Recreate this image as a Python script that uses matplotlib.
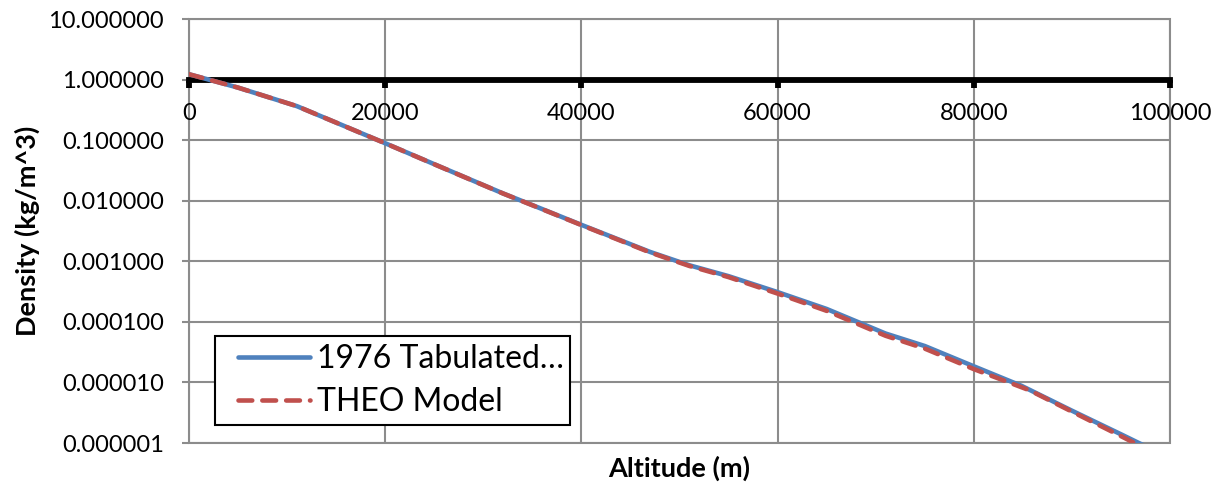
import numpy as np
import matplotlib.pyplot as plt
from matplotlib.patches import Rectangle
from matplotlib.ticker import FixedLocator, FuncFormatter

plt.rcParams['font.family'] = ['Lato', 'DejaVu Sans']

# altitude (m) and density (kg/m^3)
alt_tab = [0, 5000, 11000, 15000, 20000, 25000, 32000, 35000, 40000, 47000, 51000,
           55000, 60000, 65000, 71000, 75000, 80000, 84852, 90000, 95000, 100000]
rho_tab = [1.225, 0.7364, 0.3639, 0.1948, 0.08891, 0.04008, 0.01322, 0.008463, 0.003996,
           0.001427, 0.0008594, 0.0005681, 0.0003097, 0.0001632, 6.421e-05, 3.992e-05,
           1.846e-05, 8.8e-06, 3.416e-06, 1.393e-06, 5.604e-07]

alt_theo = [0, 5000, 11000, 15000, 20000, 25000, 32000, 35000, 40000, 47000, 51000,
            55000, 60000, 65000, 71000, 75000, 80000, 85700, 90000, 95000, 100000]
rho_theo = [1.225, 0.7364, 0.3639, 0.1947, 0.0888, 0.0400, 0.01318, 0.00842, 0.00396,
            0.00140, 0.000838, 0.000548, 0.000293, 0.000152, 5.9e-05, 3.62e-05,
            1.66e-05, 7.4e-06, 3.3e-06, 1.3e-06, 5.0e-07]

blue = '#4F81BD'
red = '#C0504D'
grid_gray = '#8C8C8C'

W, H = 1222, 487
fig = plt.figure(figsize=(W / 100, H / 100), dpi=100)
ax = fig.add_axes([189/W, 1 - 443/H, 981/W, 424/H])

l1, = ax.plot(alt_tab, rho_tab, color=blue, lw=3.3, solid_capstyle='round',
              label='1976 Tabulated…', zorder=3)
l2, = ax.plot(alt_theo, rho_theo, color=red, lw=3.3, dashes=(3.0, 2.2),
              dash_capstyle='round', label='THEO Model', zorder=4)

ax.set_yscale('log')
ax.set_xlim(0, 100000)
ax.set_ylim(1e-6, 10)

ax.xaxis.set_major_locator(FixedLocator([0, 20000, 40000, 60000, 80000, 100000]))
ax.yaxis.set_major_locator(FixedLocator([1e-6, 1e-5, 1e-4, 1e-3, 1e-2, 1e-1, 1, 10]))
ax.yaxis.set_minor_locator(FixedLocator([]))
ax.yaxis.set_major_formatter(FuncFormatter(lambda v, p: '%.6f' % v))
ax.xaxis.set_major_formatter(FuncFormatter(lambda v, p: '%d' % v))

ax.grid(True, color=grid_gray, lw=1.5)
ax.set_axisbelow(True)

# x axis crosses at density = 1
ax.spines['bottom'].set_position(('data', 1))
ax.spines['bottom'].set_linewidth(4.2)
ax.spines['bottom'].set_zorder(2.5)
for s in ['left', 'right', 'top']:
    ax.spines[s].set_visible(False)
ax.add_patch(Rectangle((0, 0), 1, 1, transform=ax.transAxes, fill=False,
                       edgecolor=grid_gray, lw=1.5, clip_on=False, zorder=0.5))

ax.tick_params(axis='x', direction='out', length=6, width=4.2, color='black',
               labelsize=17, pad=11)
ax.tick_params(axis='y', direction='out', length=5, width=1.5, color=grid_gray,
               labelsize=17, pad=13)

fig.text(679/W, 1 - 468/H, 'Altitude (m)', ha='center', va='center',
         fontsize=19.5, fontweight='bold')
fig.text(27/W, 1 - 231/H, 'Density (kg/m^3)', ha='center', va='center',
         fontsize=19.5, fontweight='bold', rotation=90)

# legend box drawn separately so the entries sit inset from its left edge
ax.add_patch(Rectangle((215/W, 1 - 425/H), 355/W, 89/H, transform=fig.transFigure,
                       facecolor='white', edgecolor='black', lw=1.5,
                       clip_on=False, zorder=4.5))
leg = ax.legend(handles=[l1, l2], loc='upper left',
                bbox_to_anchor=(230/W, 1 - 336/H),
                bbox_transform=fig.transFigure, frameon=False, fontsize=23,
                handlelength=2.25, handletextpad=0.22, borderpad=0.25,
                labelspacing=0.42, borderaxespad=0)

fig.savefig('out.png', dpi=100)
